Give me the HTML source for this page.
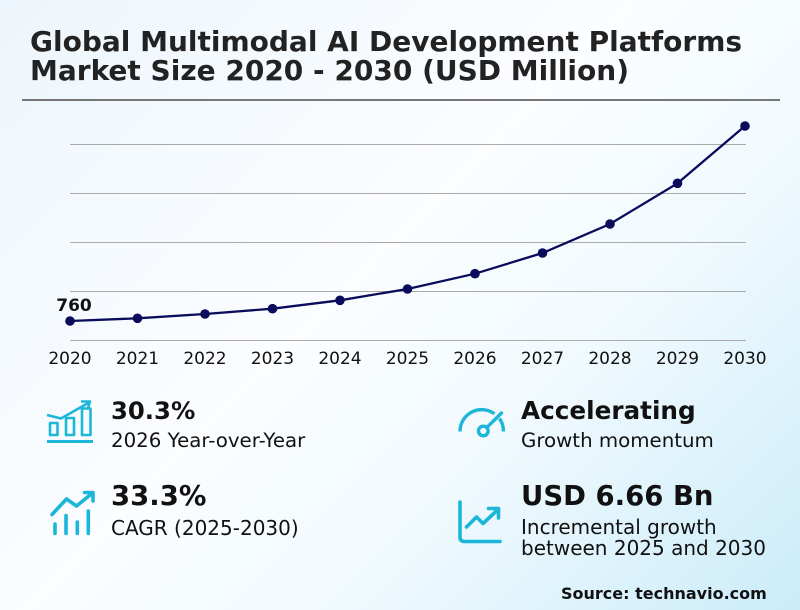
<!DOCTYPE html>
<html>
<head>
<meta charset="utf-8">
<style>
html,body{margin:0;padding:0;}
body{width:800px;height:610px;overflow:hidden;background:linear-gradient(135deg,#edf6fc 0%,#fbfdff 45%,#f2fafe 65%,#cbecf9 100%);font-family:"DejaVu Sans","Liberation Sans",sans-serif;}
svg{display:block;}
</style>
</head>
<body>
<svg width="800" height="610" viewBox="0 0 800 610" xmlns="http://www.w3.org/2000/svg" font-family="DejaVu Sans, Liberation Sans, sans-serif">
  <text x="30" y="51" font-size="28" font-weight="bold" fill="#222">Global Multimodal AI Development Platforms</text>
  <text x="30" y="80" font-size="28" font-weight="bold" fill="#222">Market Size 2020 - 2030 (USD Million)</text>
  <line x1="22" y1="100" x2="780" y2="100" stroke="#777" stroke-width="2"/>

  <g stroke="#aaa" stroke-width="1">
    <line x1="70" y1="144.5" x2="746" y2="144.5"/>
    <line x1="70" y1="193.5" x2="746" y2="193.5"/>
    <line x1="70" y1="242.5" x2="746" y2="242.5"/>
    <line x1="70" y1="291.5" x2="746" y2="291.5"/>
    <line x1="70" y1="340.5" x2="746" y2="340.5"/>
  </g>

  <polyline fill="none" stroke="#0b0b5c" stroke-width="2.3" points="70,321 137.5,318.3 205,314 272.5,308.7 340,300.3 407.5,289 475,273.7 542.5,253 610,224 677.5,183.3 745,126"/>
  <g fill="#0b0b5c">
    <circle cx="70" cy="321" r="4.8"/>
    <circle cx="137.5" cy="318.3" r="4.8"/>
    <circle cx="205" cy="314" r="4.8"/>
    <circle cx="272.5" cy="308.7" r="4.8"/>
    <circle cx="340" cy="300.3" r="4.8"/>
    <circle cx="407.5" cy="289" r="4.8"/>
    <circle cx="475" cy="273.7" r="4.8"/>
    <circle cx="542.5" cy="253" r="4.8"/>
    <circle cx="610" cy="224" r="4.8"/>
    <circle cx="677.5" cy="183.3" r="4.8"/>
    <circle cx="745" cy="126" r="4.8"/>
  </g>
  <text x="74" y="311" font-size="17" font-weight="bold" fill="#111" text-anchor="middle">760</text>

  <g font-size="17" fill="#111" text-anchor="middle">
    <text x="70" y="364">2020</text>
    <text x="137.5" y="364">2021</text>
    <text x="205" y="364">2022</text>
    <text x="272.5" y="364">2023</text>
    <text x="340" y="364">2024</text>
    <text x="407.5" y="364">2025</text>
    <text x="475" y="364">2026</text>
    <text x="542.5" y="364">2027</text>
    <text x="610" y="364">2028</text>
    <text x="677.5" y="364">2029</text>
    <text x="745" y="364">2030</text>
  </g>

  <!-- icon 1: bars with trend -->
  <g fill="none" stroke="#1cb6d8" stroke-width="2.6" stroke-linejoin="round">
    <line x1="47" y1="441.5" x2="93" y2="441.5" stroke-width="3"/>
    <rect x="50" y="423" width="7.5" height="12"/>
    <rect x="66" y="418" width="8" height="17"/>
    <rect x="82" y="408.5" width="8.5" height="26.5"/>
    <polyline points="47,415 61,418.5 90,402"/>
    <polyline points="81,401.5 90,401.5 88,408"/>
  </g>

  <!-- icon 2: trend + bars -->
  <g fill="none" stroke="#1cb6d8" stroke-width="3.6" stroke-linecap="round" stroke-linejoin="round">
    <line x1="55" y1="524" x2="55" y2="533.5"/>
    <line x1="66" y1="515.5" x2="66" y2="533.5"/>
    <line x1="77.3" y1="522" x2="77.3" y2="533.5"/>
    <line x1="88.3" y1="511" x2="88.3" y2="533.5"/>
    <polyline points="52,514.5 66.5,499 76.5,506 92.5,493"/>
    <polyline points="84.5,492.5 93,492.5 93,501"/>
  </g>

  <!-- icon 3: gauge -->
  <g fill="none" stroke="#1cb6d8" stroke-width="3.4" stroke-linecap="butt">
    <path d="M460,431.5 A21.7,21.7 0 0 1 494.5,413.8"/>
    <path d="M499.5,418.5 A21.7,21.7 0 0 1 503.4,431.5"/>
    <circle cx="483.3" cy="431" r="4.8"/>
    <line x1="487" y1="427.3" x2="501.5" y2="413" stroke-linecap="round"/>
  </g>

  <!-- icon 4: line chart -->
  <g fill="none" stroke="#1cb6d8" stroke-width="3.6" stroke-linecap="round" stroke-linejoin="round">
    <path d="M460,502 L460,537 Q460,541.5 464.5,541.5 L500,541.5"/>
    <polyline points="466.5,527 476.5,517 483,523.5 498,509.5"/>
    <polyline points="488.5,508.5 498.5,508.5 498.5,518"/>
  </g>

  <text x="111" y="419" font-size="24.3" font-weight="bold" fill="#111">30.3%</text>
  <text x="111" y="447" font-size="19.8" fill="#111">2026 Year-over-Year</text>
  <text x="111" y="505" font-size="27.5" font-weight="bold" fill="#111">33.3%</text>
  <text x="111" y="535" font-size="20" fill="#111">CAGR (2025-2030)</text>

  <text x="521" y="419" font-size="24.7" font-weight="bold" fill="#111">Accelerating</text>
  <text x="521" y="447" font-size="19.8" fill="#111">Growth momentum</text>
  <text x="521" y="505" font-size="27.5" font-weight="bold" fill="#111">USD 6.66 Bn</text>
  <text x="521" y="534" font-size="20" fill="#111">Incremental growth</text>
  <text x="521" y="555" font-size="20" fill="#111">between 2025 and 2030</text>

  <text x="561" y="599" font-size="16" font-weight="bold" fill="#111">Source: technavio.com</text>
</svg>
</body>
</html>
